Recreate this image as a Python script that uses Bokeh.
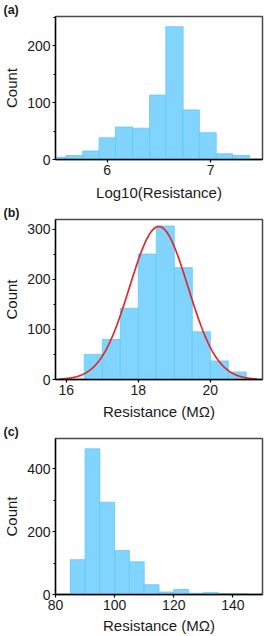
import numpy as np
from bokeh.plotting import figure
from bokeh.layouts import column
from bokeh.models import Range1d, SingleIntervalTicker, Title
from bokeh.embed import file_html
from bokeh.resources import INLINE

# ---------------- data ----------------
# (a) histogram of Log10(Resistance)
a_edges = [5.44, 5.60, 5.764, 5.921, 6.079, 6.245, 6.409, 6.566, 6.733, 6.89, 7.053, 7.211, 7.377]
a_counts = [4, 7, 15, 38, 57, 55, 113, 233, 87, 47, 10, 7]

# (b) histogram of Resistance (MOhm) with Gaussian fit
b_edges = [16.5, 17.0, 17.5, 18.0, 18.5, 19.0, 19.5, 20.0, 20.5, 21.0]
b_counts = [50, 80, 142, 250, 306, 223, 95, 37, 15]
b_fit_center = 18.57
b_fit_sigma = 0.81
b_fit_amplitude = 305
b_fit_span = [15.8, 21.3]

# (c) histogram of Resistance (MOhm)
c_edges = [85, 90, 95, 100, 105, 110, 115, 120, 125, 130, 135, 140, 145]
c_counts = [111, 464, 294, 140, 104, 31, 8, 16, 4, 6, 3, 2]

a_xticks_step, b_xticks_step, c_xticks_step = 1, 2, 20
a_yticks_step, b_yticks_step, c_yticks_step = 100, 100, 200

FONT = "Liberation Sans"
TXT = "#1a1a1a"
BAR_FILL = "#80d4fd"
BAR_LINE = "#63c8f6"


def make_panel(height, top, bottom, left, right, xr, yr, xstep, ystep, xlabel, xstand):
    p = figure(width=268, height=height, output_backend="svg", toolbar_location=None,
               x_range=Range1d(*xr), y_range=Range1d(*yr),
               min_border_left=left, min_border_right=right,
               min_border_top=top, min_border_bottom=bottom)
    p.xgrid.visible = False
    p.ygrid.visible = False
    p.outline_line_color = "#4a4a4a"
    p.outline_line_width = 1.5
    p.background_fill_color = "white"
    p.border_fill_color = "white"

    p.xaxis.ticker = SingleIntervalTicker(interval=xstep, num_minor_ticks=2)
    p.yaxis.ticker = SingleIntervalTicker(interval=ystep, num_minor_ticks=2)
    for ax in (p.xaxis[0], p.yaxis[0]):
        ax.axis_line_color = "black"
        ax.axis_line_width = 1.3
        ax.major_tick_line_color = "black"
        ax.major_tick_line_width = 1.2
        ax.major_tick_out = 3
        ax.major_tick_in = 0
        ax.minor_tick_out = 2
        ax.minor_tick_in = 0
        ax.minor_tick_line_color = "black"
        ax.major_label_text_font = FONT
        ax.major_label_text_font_size = "14px"
        ax.major_label_text_color = TXT
        ax.axis_label_text_font = FONT
        ax.axis_label_text_font_size = "15px"
        ax.axis_label_text_font_style = "normal"
        ax.axis_label_text_color = TXT
        ax.major_label_standoff = 2
    p.xaxis.minor_tick_line_color = None
    p.xaxis.axis_label = xlabel
    p.yaxis.axis_label = "Count"
    p.xaxis.axis_label_standoff = xstand
    p.yaxis.axis_label_standoff = 4
    return p


def tag(p, text):
    p.add_layout(Title(text=text, align="left", offset=-52, standoff=0,
                       text_font=FONT, text_font_size="12.5px", text_font_style="bold",
                       text_color=TXT), "above")


def bars(p, edges, counts):
    p.quad(left=edges[:-1], right=edges[1:], bottom=[0] * len(counts), top=counts,
           fill_color=BAR_FILL, line_color=BAR_LINE, line_width=0.8)


pa = make_panel(203, 15, 42, 50, 4, (5.5, 7.5), (0, 251), a_xticks_step, a_yticks_step,
                "Log10(Resistance)", 6)
bars(pa, a_edges, a_counts)
tag(pa, "(a)")

pb = make_panel(219, 15, 40, 52, 2, (15.7, 21.45), (0, 319), b_xticks_step, b_yticks_step,
                "Resistance (MΩ)", 5)
bars(pb, b_edges, b_counts)
fx = np.linspace(b_fit_span[0], b_fit_span[1], 300)
fy = b_fit_amplitude * np.exp(-((fx - b_fit_center) ** 2) / (2 * b_fit_sigma ** 2))
pb.line(fx, fy, line_color="#e0282e", line_width=1.7)
tag(pb, "(b)")

pc = make_panel(214, 15, 39, 50, 6, (80, 150), (0, 497), c_xticks_step, c_yticks_step,
                "Resistance (MΩ)", 4)
bars(pc, c_edges, c_counts)
tag(pc, "(c)")

layout = column(pa, pb, pc, spacing=0)
open("out.html", "w").write(file_html(layout, INLINE))
